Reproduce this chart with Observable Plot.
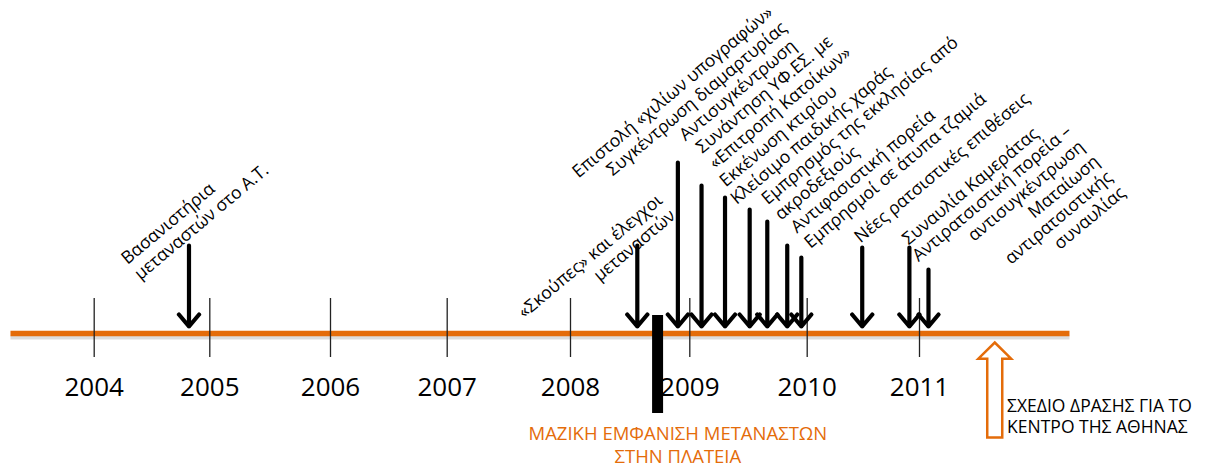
<!DOCTYPE html>
<html>
<head>
<meta charset="utf-8">
<script src="https://cdn.jsdelivr.net/npm/d3@7"></script>
<script src="https://cdn.jsdelivr.net/npm/@observablehq/plot@0.6"></script>
<style>
  html, body { margin: 0; padding: 0; background: #fff; }
  #chart svg { display: block; }
</style>
</head>
<body>
<div id="chart"></div>
<script>
// ---------- data ----------
const years = [2004, 2005, 2006, 2007, 2008, 2009, 2010, 2011];
const timelineSpan = [2003.28, 2012.34];

// events marked with a black arrow (date as fractional year, arrow height)
const eventDates   = [2004.82, 2008.56, 2008.90, 2009.10, 2009.30, 2009.51, 2009.66, 2009.83, 2009.95, 2010.49, 2010.91, 2011.08];
const arrowHeights = [88, 88, 171, 148, 136, 124, 112, 88, 76, 86, 86, 64];

// event labels (anchor date, anchor level)
const labelTexts = [
  "Βασανιστήρια\nμεταναστών στο Α.Τ.",
  "«Σκούπες» και έλεγχοι\nμεταναστών",
  "Επιστολή «χιλίων υπογραφών»",
  "Συγκέντρωση διαμαρτυρίας",
  "Αντισυγκέντρωση",
  "Συνάντηση ΥΦ.ΕΣ. με\n«Επιτροπή Κατοίκων»",
  "Εκκένωση κτιρίου",
  "Κλείσιμο παιδικής χαράς",
  "Εμπρησμός της εκκλησίας από\nακροδεξιούς",
  "Αντιφασιστική πορεία",
  "Εμπρησμοί σε άτυπα τζαμιά",
  "Νέες ρατσιστικές επιθέσεις",
  "Συναυλία Καμεράτας",
  "Αντιρατσιστική πορεία –\nαντισυγκέντρωση",
  "Ματαίωση\nαντιρατσιστικής\nσυναυλίας"
];
const labelDates  = [2004.40, 2008.889, 2008.068, 2008.354, 2008.965, 2009.217, 2009.307, 2009.399, 2009.776, 2009.914, 2010.030, 2010.475, 2010.902, 2012.478, 2012.843];
const labelLevels = [53, 116, 155, 157, 192, 164, 146, 128.5, 112.7, 99.8, 84.6, 90, 88, 185, 139];

// mass appearance of migrants in the square (bar)
const massDate = 2008.73;
const massSpan = [18, -80];
const massText = "ΜΑΖΙΚΗ ΕΜΦΑΝΙΣΗ ΜΕΤΑΝΑΣΤΩΝ\nΣΤΗΝ ΠΛΑΤΕΙΑ";
const massTextDate = 2008.90;
const massTextLevel = -129;

// action plan for the centre of Athens
const planDate = 2011.67;
const planLevel = -56.5;
const planText = "ΣΧΕΔΙΟ ΔΡΑΣΗΣ ΓΙΑ ΤΟ\nΚΕΝΤΡΟ ΤΗΣ ΑΘΗΝΑΣ";
const planTextDate = 2011.78;
const planTextLevel = -99;

const yearLabelLevel = -54;
const tickSpan = [35, -24];
const arrowTip = 7;

// ---------- build tables ----------
const events = eventDates.map((d, i) => ({date: d, h: arrowHeights[i]}));
const labels = labelTexts.map((t, i) => ({text: t, date: labelDates[i], level: labelLevels[i]}));
const rightAligned = new Set([1, 13, 14]);
const labelsStart = labels.filter((d, i) => !rightAligned.has(i));
const labelsEnd = labels.filter((d, i) => rightAligned.has(i));

const ORANGE = "#e46c0a";
const FONT = "Open Sans, sans-serif";

// hollow block arrow symbol (tip up)
const blockArrow = {
  draw(context, size) {
    const r = Math.sqrt(size / Math.PI);
    const hw = 0.345 * r, hh = 0.34 * r, sw = 0.158 * r;
    context.moveTo(0, -r);
    context.lineTo(hw, -r + hh);
    context.lineTo(sw, -r + hh);
    context.lineTo(sw, r);
    context.lineTo(-sw, r);
    context.lineTo(-sw, -r + hh);
    context.lineTo(-hw, -r + hh);
    context.closePath();
  }
};

const labelStyle = {rotate: -40, lineAnchor: "bottom", fontSize: 17.5, lineHeight: 1.16, fill: "#000"};

const chart = Plot.plot({
  width: 1211,
  height: 466,
  margin: 0,
  style: {fontFamily: FONT, background: "#fff", overflow: "visible"},
  x: {type: "linear", domain: years, range: [93.7, 209.3, 330, 446.7, 570, 689.3, 806.7, 919], axis: null},
  y: {type: "linear", domain: [-133, 333], range: [466, 0], axis: null},
  marks: [
    // timeline shadow + timeline
    Plot.ruleY([0], {x1: timelineSpan[0], x2: timelineSpan[1], stroke: "#9a9a9a", strokeWidth: 4, strokeOpacity: 0.35, dy: 4}),
    Plot.ruleY([0], {x1: timelineSpan[0], x2: timelineSpan[1], stroke: ORANGE, strokeWidth: 5.5}),
    // year ticks
    Plot.ruleX(years, {x: d => d, y1: tickSpan[0], y2: tickSpan[1], stroke: "#222", strokeWidth: 1.3}),
    // year labels
    Plot.text(years, {x: d => d, y: yearLabelLevel, text: d => String(d), fontSize: 26, fill: "#000"}),
    // event arrows
    Plot.arrow(events, {x: "date", y1: "h", y2: arrowTip, stroke: "#000", strokeWidth: 4.2, headLength: 5.6, headAngle: 80}),
    // mass appearance bar
    Plot.ruleX([massDate], {x: d => d, y1: massSpan[0], y2: massSpan[1], stroke: "#000", strokeWidth: 11}),
    Plot.text([massText], {x: massTextDate, y: massTextLevel, text: d => d, fill: ORANGE, fontSize: 18.5, lineHeight: 1.2, lineAnchor: "bottom", textAnchor: "middle"}),
    // action plan arrow
    Plot.dot([planDate], {x: d => d, y: planLevel, r: 47.5, symbol: blockArrow, stroke: ORANGE, fill: "#fff", strokeWidth: 2.5}),
    Plot.text([planText], {x: planTextDate, y: planTextLevel, text: d => d, fill: "#000", fontSize: 17.5, lineHeight: 1.2, lineAnchor: "bottom", textAnchor: "start"}),
    // event labels
    Plot.text(labelsStart, {x: "date", y: "level", text: "text", textAnchor: "start", ...labelStyle}),
    Plot.text(labelsEnd, {x: "date", y: "level", text: "text", textAnchor: "end", ...labelStyle})
  ]
});
document.getElementById("chart").appendChild(chart);
</script>
</body>
</html>
